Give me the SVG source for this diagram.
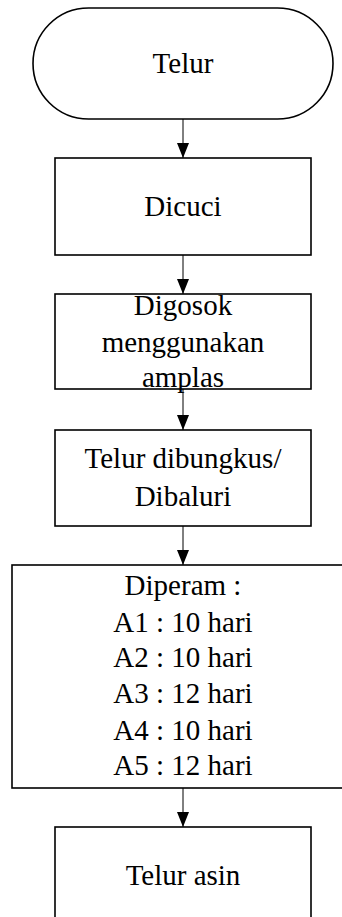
<svg xmlns="http://www.w3.org/2000/svg" width="342" height="917" viewBox="0 0 342 917">
<defs>
<style>
.box{fill:#fff;stroke:#000;stroke-width:1.6}
.t{font-family:"Liberation Serif","Times New Roman",serif;font-size:29px;fill:#000;text-anchor:middle}
.c{stroke:#000;stroke-width:1;fill:none}
</style>
<marker id="ah" viewBox="0 0 15 12" refX="15" refY="6" markerWidth="15" markerHeight="12" markerUnits="userSpaceOnUse" orient="auto">
<path d="M0,0 L15,6 L0,12 Z" fill="#000"/>
</marker>
</defs>
<rect width="342" height="917" fill="#fff"/>
<g id="n1">
<rect class="box" x="33" y="8" width="300" height="111" rx="55.5" ry="55.5"/>
<text class="t" x="183" y="73">Telur</text>
</g>
<g id="n2">
<rect class="box" x="55" y="158" width="256" height="97"/>
<text class="t" x="183" y="216">Dicuci</text>
</g>
<g id="n3">
<rect class="box" x="55" y="294" width="256" height="95"/>
<text class="t" x="183" y="315">Digosok</text>
<text class="t" x="183" y="352">menggunakan</text>
<text class="t" x="183" y="387">amplas</text>
</g>
<g id="n4">
<rect class="box" x="55" y="430" width="256" height="96"/>
<text class="t" x="183" y="468">Telur dibungkus/</text>
<text class="t" x="183" y="506">Dibaluri</text>
</g>
<g id="n5">
<rect class="box" x="12" y="565" width="340" height="223"/>
<text class="t" x="183" y="595">Diperam :</text>
<text class="t" x="183" y="632">A1 : 10 hari</text>
<text class="t" x="183" y="667">A2 : 10 hari</text>
<text class="t" x="183" y="703">A3 : 12 hari</text>
<text class="t" x="183" y="740">A4 : 10 hari</text>
<text class="t" x="183" y="775">A5 : 12 hari</text>
</g>
<g id="n6">
<rect class="box" x="55" y="827" width="256" height="110"/>
<text class="t" x="183" y="885">Telur asin</text>
</g>
<g id="connectors">
<line class="c" x1="183" y1="119" x2="183" y2="158" marker-end="url(#ah)"/>
<line class="c" x1="183" y1="255" x2="183" y2="294" marker-end="url(#ah)"/>
<line class="c" x1="183" y1="389" x2="183" y2="430" marker-end="url(#ah)"/>
<line class="c" x1="183" y1="526" x2="183" y2="565" marker-end="url(#ah)"/>
<line class="c" x1="183" y1="788" x2="183" y2="827" marker-end="url(#ah)"/>
</g>
</svg>
